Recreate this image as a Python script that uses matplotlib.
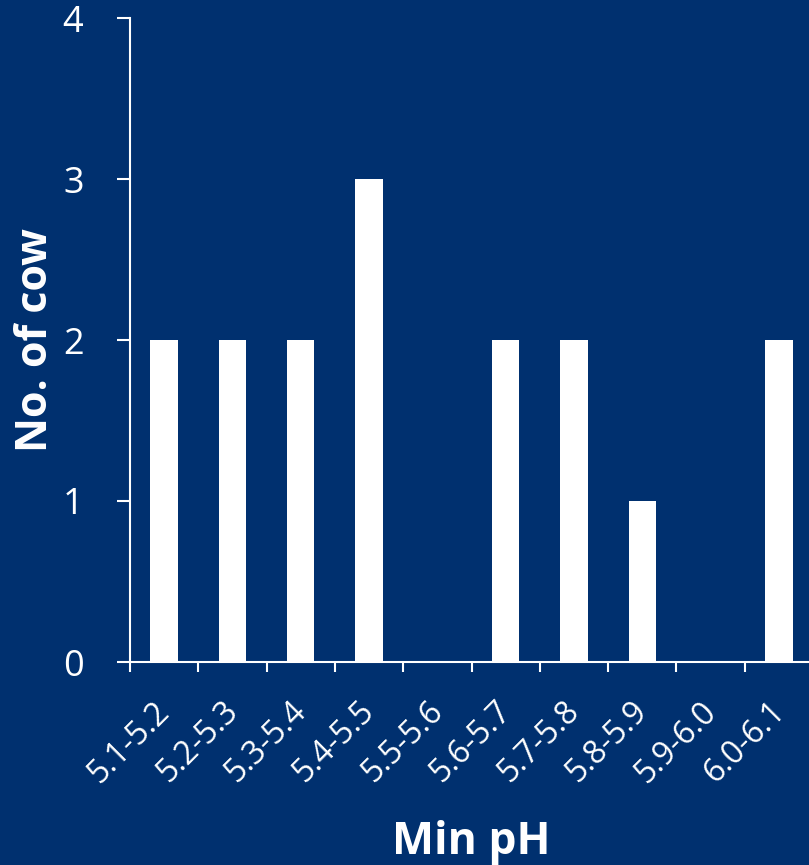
import matplotlib
matplotlib.use("Agg")
import matplotlib.pyplot as plt
import matplotlib.transforms as mtransforms
import numpy as np

categories = ["5.1-5.2", "5.2-5.3", "5.3-5.4", "5.4-5.5", "5.5-5.6",
              "5.6-5.7", "5.7-5.8", "5.8-5.9", "5.9-6.0", "6.0-6.1"]
cow_counts = [2, 2, 2, 3, 0, 2, 2, 1, 0, 2]
y_ticks = [0, 1, 2, 3, 4]

bg = "#00306F"
W, H = 809, 865
fig = plt.figure(figsize=(W / 100, H / 100), dpi=100, facecolor=bg)
ax = fig.add_axes([130 / W, (H - 662) / H, 683 / W, 644 / H], facecolor=bg)

x = np.arange(len(categories))
ax.bar(x, cow_counts, width=0.4, color="white", zorder=3)

ax.set_xlim(-0.5, len(categories) - 0.5)
ax.set_ylim(0, 4)
ax.set_yticks(y_ticks)
ax.set_yticklabels([str(v) for v in y_ticks], fontsize=26, color="white",
                   family="Open Sans")

# labels at the category centres, tick marks at the category boundaries
ax.set_xticks(x)
ax.set_xticklabels(categories, rotation=45, ha="right", va="center",
                   rotation_mode="anchor", fontsize=23, color="white",
                   family="Open Sans")
ax.set_xticks(np.arange(-0.5, len(categories)), minor=True)
ax.tick_params(axis="x", which="major", length=0, pad=32)
ax.tick_params(axis="x", which="minor", length=7.5, width=1.5, color="white",
               direction="out")
ax.tick_params(axis="y", length=9.5, width=1.5, color="white", direction="out",
               pad=24)

shift = mtransforms.ScaledTranslation(1 / 100, 0, fig.dpi_scale_trans)
for lbl in ax.get_xticklabels():
    lbl.set_transform(lbl.get_transform() + shift)

for side in ("top", "right"):
    ax.spines[side].set_visible(False)
for side in ("left", "bottom"):
    ax.spines[side].set_color("white")
    ax.spines[side].set_linewidth(1.5)

ax.set_ylabel("No. of cow", fontsize=31, fontweight="bold", color="white",
              family="Open Sans", labelpad=4)
ax.set_xlabel("Min pH", fontsize=32, fontweight="bold", color="white",
              family="Open Sans", labelpad=22)

fig.savefig("out.png", dpi=100, facecolor=bg)
